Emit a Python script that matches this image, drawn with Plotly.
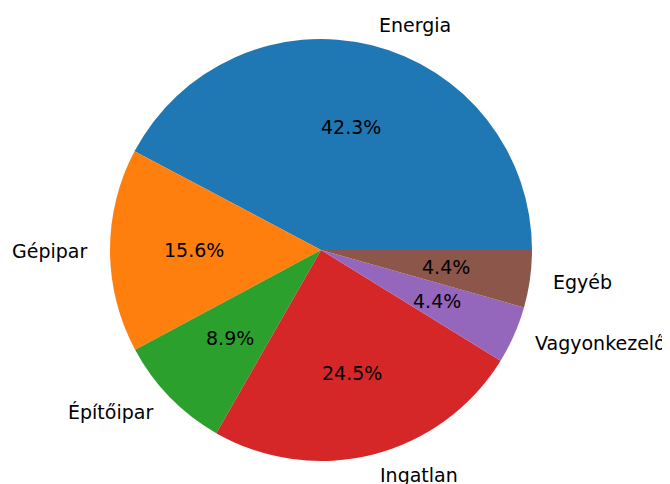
import math
import plotly.graph_objects as go

labels = ["Energia", "Gépipar", "Építőipar", "Ingatlan", "Vagyonkezelő", "Egyéb"]
values = [42.3, 15.6, 8.9, 24.5, 4.4, 4.4]
colors = ["#1f77b4", "#ff7f0e", "#2ca02c", "#d62728", "#9467bd", "#8c564b"]

W, H = 670, 484
OFF = 8  # page body margin
cx, cy, r = 321 - OFF, 250 - OFF, 211
FONT = "DejaVu Sans"
FS = 19

total = sum(values)
# plotly: counterclockwise first slice occupies [rotation, rotation + v0] (clockwise measure)
rot = 90 - 360 * values[0] / total

fig = go.Figure()
fig.add_trace(go.Pie(
    labels=labels, values=values, sort=False,
    direction="counterclockwise", rotation=rot,
    marker=dict(colors=colors, line=dict(width=0)),
    textinfo="none", hoverinfo="label+percent", showlegend=False,
    domain=dict(x=[(cx - r) / W, (cx + r) / W], y=[(H - cy - r) / H, (H - cy + r) / H]),
))

ann = []
cum = 0.0
for lab, v in zip(labels, values):
    mid = (cum + v / 2) / total * 2 * math.pi
    cum += v
    c, s = math.cos(mid), math.sin(mid)
    lx, ly = cx + 1.1 * r * c, cy - 1.1 * r * s
    ann.append(dict(x=lx / W, y=1 - ly / H, xref="paper", yref="paper", text=lab,
                    showarrow=False, xanchor="left" if c > 0 else "right", yanchor="middle",
                    font=dict(family=FONT, size=FS, color="black")))
    px, py = cx + 0.6 * r * c, cy - 0.6 * r * s
    ann.append(dict(x=px / W, y=1 - py / H, xref="paper", yref="paper",
                    text=f"{v / total * 100:.1f}%",
                    showarrow=False, xanchor="center", yanchor="middle",
                    font=dict(family=FONT, size=FS, color="black")))

fig.update_layout(width=W, height=H, margin=dict(l=0, r=0, t=0, b=0),
                  paper_bgcolor="white", plot_bgcolor="white", annotations=ann)
fig.write_html("out.html")
